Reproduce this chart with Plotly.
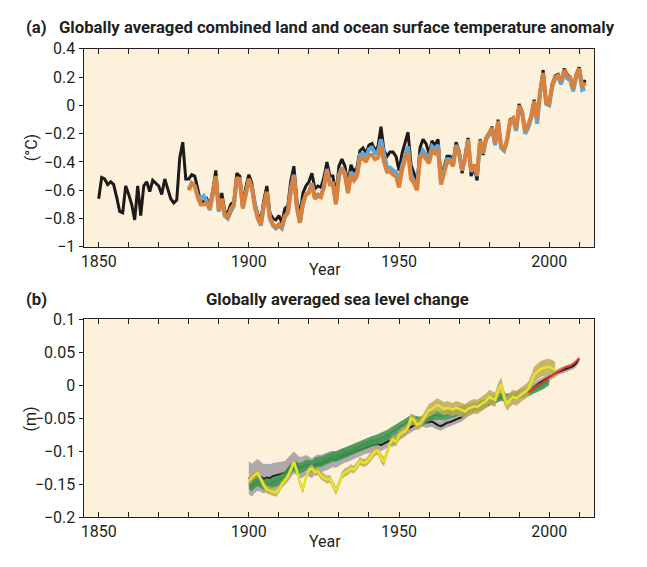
import numpy as np
import plotly.graph_objects as go

# ---------------- Panel (a): temperature anomaly (°C) ----------------
years_black = list(range(1850, 2013))
temp_black = [
    -0.66, -0.51, -0.52, -0.56, -0.54, -0.56, -0.65, -0.75, -0.76, -0.57,
    -0.63, -0.70, -0.81, -0.57, -0.78, -0.57, -0.54, -0.61, -0.53, -0.55,
    -0.57, -0.63, -0.52, -0.59, -0.66, -0.69, -0.67, -0.37, -0.26, -0.52,
    -0.52, -0.49, -0.50, -0.59, -0.69, -0.68, -0.66, -0.71, -0.60, -0.46,
    -0.71, -0.62, -0.75, -0.76, -0.70, -0.68, -0.48, -0.50, -0.70, -0.58,
    -0.49, -0.55, -0.69, -0.77, -0.81, -0.67, -0.57, -0.76, -0.80, -0.81,
    -0.78, -0.83, -0.73, -0.71, -0.53, -0.43, -0.67, -0.78, -0.62, -0.57,
    -0.54, -0.48, -0.59, -0.57, -0.58, -0.51, -0.40, -0.50, -0.50, -0.64,
    -0.43, -0.38, -0.43, -0.56, -0.42, -0.47, -0.44, -0.32, -0.30, -0.34,
    -0.28, -0.27, -0.32, -0.29, -0.15, -0.32, -0.36, -0.33, -0.33, -0.36,
    -0.46, -0.34, -0.26, -0.19, -0.42, -0.48, -0.56, -0.30, -0.24, -0.27,
    -0.34, -0.25, -0.28, -0.24, -0.51, -0.43, -0.36, -0.36, -0.40, -0.26,
    -0.32, -0.48, -0.36, -0.23, -0.50, -0.44, -0.53, -0.24, -0.35, -0.23,
    -0.20, -0.15, -0.28, -0.10, -0.30, -0.32, -0.25, -0.10, -0.09, -0.17,
    0.01, -0.04, -0.19, -0.14, -0.08, 0.04, -0.11, 0.10, 0.25, 0.02,
    0.00, 0.15, 0.21, 0.22, 0.16, 0.26, 0.22, 0.20, 0.11, 0.22,
    0.27, 0.14, 0.18,
]

years_color = list(range(1880, 2013))
temp_orange = [
    -0.60, -0.55, -0.57, -0.65, -0.70, -0.70, -0.69, -0.73, -0.62, -0.50,
    -0.74, -0.66, -0.77, -0.79, -0.73, -0.70, -0.51, -0.53, -0.73, -0.62,
    -0.52, -0.58, -0.72, -0.80, -0.84, -0.70, -0.61, -0.79, -0.84, -0.86,
    -0.84, -0.86, -0.78, -0.76, -0.60, -0.50, -0.72, -0.83, -0.69, -0.63,
    -0.62, -0.56, -0.66, -0.64, -0.65, -0.58, -0.46, -0.56, -0.56, -0.70,
    -0.50, -0.45, -0.49, -0.62, -0.49, -0.53, -0.50, -0.38, -0.37, -0.40,
    -0.35, -0.35, -0.38, -0.37, -0.29, -0.40, -0.47, -0.47, -0.49, -0.50,
    -0.58, -0.46, -0.38, -0.33, -0.52, -0.55, -0.60, -0.37, -0.35, -0.38,
    -0.41, -0.32, -0.34, -0.31, -0.56, -0.48, -0.40, -0.40, -0.43, -0.29,
    -0.34, -0.46, -0.38, -0.25, -0.46, -0.42, -0.49, -0.25, -0.33, -0.23,
    -0.20, -0.16, -0.27, -0.11, -0.29, -0.31, -0.24, -0.11, -0.09, -0.17,
    0.00, -0.05, -0.18, -0.14, -0.08, 0.03, -0.10, 0.10, 0.23, 0.02,
    0.01, 0.14, 0.20, 0.21, 0.17, 0.25, 0.21, 0.20, 0.12, 0.21,
    0.26, 0.13, 0.16,
]
temp_blue = [
    -0.59, -0.55, -0.57, -0.64, -0.66, -0.64, -0.68, -0.74, -0.63, -0.51,
    -0.75, -0.67, -0.78, -0.80, -0.75, -0.71, -0.52, -0.52, -0.72, -0.61,
    -0.53, -0.58, -0.71, -0.80, -0.85, -0.71, -0.62, -0.80, -0.85, -0.87,
    -0.85, -0.87, -0.79, -0.76, -0.59, -0.49, -0.72, -0.83, -0.70, -0.63,
    -0.61, -0.55, -0.65, -0.63, -0.64, -0.57, -0.45, -0.55, -0.55, -0.69,
    -0.49, -0.44, -0.48, -0.61, -0.47, -0.51, -0.48, -0.35, -0.34, -0.37,
    -0.31, -0.30, -0.34, -0.33, -0.24, -0.36, -0.44, -0.44, -0.46, -0.47,
    -0.55, -0.43, -0.35, -0.29, -0.49, -0.53, -0.58, -0.36, -0.32, -0.35,
    -0.38, -0.29, -0.31, -0.28, -0.55, -0.46, -0.38, -0.38, -0.42, -0.28,
    -0.33, -0.46, -0.37, -0.24, -0.47, -0.42, -0.50, -0.25, -0.34, -0.24,
    -0.21, -0.16, -0.28, -0.12, -0.30, -0.32, -0.25, -0.12, -0.10, -0.18,
    -0.01, -0.05, -0.20, -0.16, -0.09, 0.02, -0.13, 0.09, 0.22, 0.01,
    0.00, 0.13, 0.19, 0.20, 0.15, 0.24, 0.19, 0.18, 0.10, 0.20,
    0.25, 0.11, 0.12,
]

# ---------------- Panel (b): sea level change (m) ----------------
years_cw = list(range(1900, 2011))
sea_black = [
    -0.140, -0.144, -0.139, -0.136, -0.139, -0.142, -0.140, -0.141, -0.138, -0.137,
    -0.135, -0.134, -0.133, -0.128, -0.122, -0.117, -0.121, -0.125, -0.124, -0.121,
    -0.123, -0.126, -0.121, -0.119, -0.120, -0.117, -0.116, -0.113, -0.112, -0.113,
    -0.110, -0.108, -0.106, -0.105, -0.103, -0.101, -0.099, -0.098, -0.096, -0.094,
    -0.093, -0.091, -0.090, -0.089, -0.091, -0.088, -0.086, -0.084, -0.085, -0.082,
    -0.076, -0.072, -0.069, -0.066, -0.063, -0.060, -0.058, -0.056, -0.055, -0.057,
    -0.056, -0.055, -0.058, -0.061, -0.062, -0.059, -0.057, -0.056, -0.054, -0.051,
    -0.050, -0.048, -0.044, -0.040, -0.037, -0.035, -0.034, -0.032, -0.030, -0.027,
    -0.024, -0.024, -0.023, -0.020, -0.018, -0.019, -0.020, -0.018, -0.016, -0.015,
    -0.013, -0.011, -0.010, -0.009, -0.006, -0.002, 0.001, 0.004, 0.007, 0.009,
    0.012, 0.015, 0.018, 0.020, 0.022, 0.024, 0.026, 0.027, 0.029, 0.033, 0.040,
]
sea_black_unc = [
    0.025, 0.025, 0.024, 0.024, 0.023, 0.022, 0.021, 0.021, 0.020, 0.020,
    0.019, 0.019, 0.018, 0.018, 0.017, 0.017, 0.016, 0.016, 0.016, 0.015,
    0.015, 0.015, 0.014, 0.014, 0.014, 0.013, 0.013, 0.013, 0.012, 0.012,
    0.012, 0.012, 0.011, 0.011, 0.011, 0.011, 0.010, 0.010, 0.010, 0.010,
    0.010, 0.010, 0.009, 0.009, 0.009, 0.009, 0.009, 0.009, 0.008, 0.008,
    0.008, 0.008, 0.008, 0.008, 0.008, 0.008, 0.008, 0.008, 0.008, 0.008,
    0.008, 0.008, 0.008, 0.007, 0.007, 0.007, 0.007, 0.007, 0.007, 0.007,
    0.007, 0.007, 0.007, 0.007, 0.007, 0.007, 0.007, 0.007, 0.007, 0.007,
    0.006, 0.006, 0.006, 0.006, 0.006, 0.006, 0.006, 0.006, 0.006, 0.006,
    0.006, 0.006, 0.006, 0.006, 0.006, 0.006, 0.006, 0.006, 0.006, 0.006,
    0.005, 0.005, 0.005, 0.005, 0.005, 0.005, 0.005, 0.005, 0.005, 0.005, 0.005,
]

years_green = list(range(1900, 2001))
sea_green = [
    -0.149, -0.153, -0.148, -0.145, -0.148, -0.151, -0.149, -0.150, -0.147, -0.146,
    -0.144, -0.142, -0.139, -0.132, -0.126, -0.122, -0.124, -0.126, -0.124, -0.121,
    -0.121, -0.122, -0.118, -0.116, -0.116, -0.114, -0.112, -0.110, -0.108, -0.108,
    -0.106, -0.104, -0.102, -0.101, -0.099, -0.097, -0.094, -0.092, -0.090, -0.088,
    -0.087, -0.085, -0.084, -0.082, -0.081, -0.079, -0.076, -0.073, -0.070, -0.067,
    -0.063, -0.060, -0.058, -0.055, -0.052, -0.053, -0.054, -0.055, -0.054, -0.052,
    -0.048, -0.046, -0.045, -0.046, -0.047, -0.046, -0.044, -0.043, -0.042, -0.040,
    -0.039, -0.038, -0.037, -0.036, -0.035, -0.034, -0.033, -0.031, -0.029, -0.027,
    -0.025, -0.023, -0.021, -0.019, -0.017, -0.018, -0.019, -0.018, -0.017, -0.015,
    -0.014, -0.013, -0.012, -0.011, -0.009, -0.007, -0.005, -0.003, 0.000, 0.003,
    0.006,
]
sea_green_unc = [
    0.008, 0.008, 0.008, 0.008, 0.008, 0.008, 0.008, 0.008, 0.008, 0.008,
    0.008, 0.008, 0.008, 0.008, 0.008, 0.008, 0.008, 0.008, 0.008, 0.008,
    0.008, 0.008, 0.008, 0.008, 0.008, 0.008, 0.008, 0.008, 0.008, 0.008,
    0.008, 0.008, 0.008, 0.008, 0.008, 0.008, 0.008, 0.008, 0.008, 0.008,
    0.008, 0.008, 0.008, 0.008, 0.008, 0.008, 0.008, 0.008, 0.008, 0.008,
    0.007, 0.007, 0.007, 0.007, 0.007, 0.007, 0.007, 0.007, 0.007, 0.007,
    0.007, 0.007, 0.007, 0.007, 0.007, 0.007, 0.007, 0.007, 0.007, 0.007,
    0.007, 0.007, 0.007, 0.007, 0.007, 0.007, 0.007, 0.007, 0.007, 0.007,
    0.006, 0.006, 0.006, 0.006, 0.006, 0.006, 0.006, 0.006, 0.006, 0.006,
    0.006, 0.006, 0.006, 0.006, 0.006, 0.006, 0.006, 0.006, 0.006, 0.006,
    0.006,
]

years_yellow = list(range(1900, 2003))
sea_yellow = [
    -0.145, -0.140, -0.136, -0.133, -0.142, -0.152, -0.158, -0.160, -0.162, -0.163,
    -0.158, -0.150, -0.145, -0.138, -0.128, -0.116, -0.130, -0.148, -0.158, -0.140,
    -0.128, -0.126, -0.132, -0.130, -0.137, -0.140, -0.143, -0.142, -0.150, -0.160,
    -0.150, -0.137, -0.132, -0.130, -0.126, -0.128, -0.122, -0.115, -0.118, -0.117,
    -0.112, -0.106, -0.100, -0.099, -0.110, -0.116, -0.100, -0.088, -0.082, -0.086,
    -0.076, -0.072, -0.070, -0.064, -0.050, -0.053, -0.060, -0.058, -0.052, -0.044,
    -0.038, -0.036, -0.032, -0.030, -0.033, -0.036, -0.034, -0.035, -0.037, -0.034,
    -0.036, -0.038, -0.040, -0.036, -0.034, -0.032, -0.033, -0.030, -0.028, -0.024,
    -0.018, -0.020, -0.022, -0.008, 0.001, -0.018, -0.028, -0.022, -0.018, -0.020,
    -0.016, -0.013, -0.010, -0.006, 0.004, 0.016, 0.020, 0.024, 0.026, 0.027,
    0.028, 0.026, 0.023,
]
sea_yellow_unc = [
    0.006, 0.006, 0.006, 0.006, 0.006, 0.006, 0.006, 0.006, 0.006, 0.006,
    0.006, 0.006, 0.006, 0.006, 0.006, 0.006, 0.006, 0.006, 0.006, 0.006,
    0.006, 0.006, 0.006, 0.006, 0.006, 0.006, 0.006, 0.006, 0.006, 0.006,
    0.006, 0.006, 0.006, 0.006, 0.006, 0.006, 0.006, 0.006, 0.006, 0.006,
    0.007, 0.007, 0.007, 0.007, 0.007, 0.007, 0.007, 0.007, 0.007, 0.007,
    0.008, 0.008, 0.008, 0.008, 0.008, 0.008, 0.008, 0.008, 0.008, 0.008,
    0.010, 0.010, 0.010, 0.010, 0.010, 0.010, 0.010, 0.010, 0.010, 0.010,
    0.011, 0.011, 0.011, 0.011, 0.011, 0.011, 0.011, 0.011, 0.011, 0.011,
    0.011, 0.011, 0.011, 0.011, 0.011, 0.011, 0.011, 0.011, 0.011, 0.011,
    0.011, 0.011, 0.011, 0.011, 0.011, 0.012, 0.012, 0.012, 0.012, 0.012,
    0.012, 0.012, 0.012,
]

years_red = list(range(1993, 2011))
sea_red = [
    -0.011, -0.008, -0.004, -0.001, 0.002, 0.004, 0.008, 0.012, 0.015, 0.018,
    0.021, 0.023, 0.026, 0.028, 0.029, 0.032, 0.036, 0.040,
]

# ---------------- Axes labels ----------------
x_tickvals = list(range(1850, 2011, 10))
x_ticktext = ["1850", "", "", "", "", "1900", "", "", "", "", "1950", "", "", "", "", "2000", ""]
a_tickvals = [0.4, 0.2, 0, -0.2, -0.4, -0.6, -0.8, -1]
a_ticktext = ["0.4", "0.2", "0", "\u22120.2", "\u22120.4", "\u22120.6", "\u22120.8", "\u22121"]
b_tickvals = [0.1, 0.05, 0, -0.05, -0.1, -0.15, -0.2]
b_ticktext = ["0.1", "0.05", "0", "\u22120.05", "\u22120.1", "\u22120.15", "\u22120.2"]

FONT = "Liberation Sans Narrow, Roboto, sans-serif"
TXT = "#231f20"
# the page body keeps an 8 px margin; the figure is sized to fit the window
OFF = 8
W, H = 647 - 2 * OFF, 567 - 2 * OFF


def px(x):
    return (x - OFF) / W


def py(y):
    return 1 - (y - OFF) / H


fig = go.Figure()

# Panel a traces
fig.add_trace(go.Scatter(x=years_black, y=temp_black, mode="lines",
                         line=dict(color="#1e1a1a", width=3), xaxis="x", yaxis="y"))
fig.add_trace(go.Scatter(x=years_color, y=temp_blue, mode="lines",
                         line=dict(color="#58a8dc", width=4), xaxis="x", yaxis="y"))
fig.add_trace(go.Scatter(x=years_color, y=temp_orange, mode="lines",
                         line=dict(color="#d9823f", width=4), xaxis="x", yaxis="y"))


def band(years, mid, unc, color):
    mid = np.array(mid)
    unc = np.array(unc)
    fig.add_trace(go.Scatter(x=years, y=mid + unc, mode="lines", line=dict(width=0),
                             hoverinfo="skip", xaxis="x2", yaxis="y2"))
    fig.add_trace(go.Scatter(x=years, y=mid - unc, mode="lines", line=dict(width=0),
                             fill="tonexty", fillcolor=color, hoverinfo="skip",
                             xaxis="x2", yaxis="y2"))


band(years_cw, sea_black, sea_black_unc, "rgba(125,122,140,0.6)")
fig.add_trace(go.Scatter(x=years_cw, y=sea_black, mode="lines",
                         line=dict(color="#1e1a1a", width=2), xaxis="x2", yaxis="y2"))
band(years_green, sea_green, sea_green_unc, "rgba(62,148,78,0.88)")
fig.add_trace(go.Scatter(x=years_green, y=sea_green, mode="lines",
                         line=dict(color="#3c8f4c", width=1.5), xaxis="x2", yaxis="y2"))
band(years_yellow, sea_yellow, sea_yellow_unc, "rgba(188,168,88,0.85)")
fig.add_trace(go.Scatter(x=years_yellow, y=sea_yellow, mode="lines",
                         line=dict(color="#e6e228", width=2.5), xaxis="x2", yaxis="y2"))
fig.add_trace(go.Scatter(x=years_red, y=sea_red, mode="lines",
                         line=dict(color="#e2321e", width=2), xaxis="x2", yaxis="y2"))

xdom = [px(81), px(594)]
ydom_a = [py(246), py(41)]
ydom_b = [py(526), py(321)]

common_x = dict(range=[1845, 2015], tickmode="array", tickvals=x_tickvals, ticktext=x_ticktext,
                ticks="inside", ticklen=5, tickwidth=1, tickcolor="#231f20",
                showline=True, linecolor="#231f20", linewidth=1.3, mirror="ticks",
                showgrid=False, zeroline=False, domain=xdom,
                tickfont=dict(family=FONT, size=16, color=TXT))
common_y = dict(tickmode="array", ticks="outside", ticklen=4, tickwidth=1, tickcolor="#231f20",
                showline=True, linecolor="#231f20", linewidth=1.3, mirror=True,
                showgrid=False, zeroline=False,
                tickfont=dict(family=FONT, size=16, color=TXT))

fig.update_layout(
    width=W, height=H,
    margin=dict(l=0, r=0, t=0, b=0),
    paper_bgcolor="white",
    plot_bgcolor="#fdf1dc",
    showlegend=False,
    xaxis=dict(anchor="y", **common_x),
    yaxis=dict(anchor="x", domain=ydom_a, range=[-1, 0.4], tickvals=a_tickvals,
               ticktext=a_ticktext, **common_y),
    xaxis2=dict(anchor="y2", **common_x),
    yaxis2=dict(anchor="x2", domain=ydom_b, range=[-0.2, 0.1], tickvals=b_tickvals,
                ticktext=b_ticktext, **common_y),
    yaxis3=dict(overlaying="y", side="right", anchor="x", range=[-1, 0.4], tickmode="array",
                tickvals=a_tickvals, ticks="inside", ticklen=5, tickcolor="#231f20",
                showticklabels=False, showgrid=False, zeroline=False, showline=False),
    yaxis4=dict(overlaying="y2", side="right", anchor="x2", range=[-0.2, 0.1], tickmode="array",
                tickvals=b_tickvals, ticks="inside", ticklen=5, tickcolor="#231f20",
                showticklabels=False, showgrid=False, zeroline=False, showline=False),
)

ann = []
bold = dict(family=FONT, size=16.7, color=TXT)
norm = dict(family=FONT, size=16, color=TXT)
ann.append(dict(text="<b>(a)</b>", x=px(22), y=py(19), xanchor="left", yanchor="middle", font=bold))
ann.append(dict(text="<b>Globally averaged combined land and ocean surface temperature anomaly</b>",
                x=px(55), y=py(19), xanchor="left", yanchor="middle", font=bold))
ann.append(dict(text="<b>(b)</b>", x=px(22), y=py(301), xanchor="left", yanchor="middle", font=bold))
ann.append(dict(text="<b>Globally averaged sea level change</b>",
                x=px(336), y=py(301), xanchor="center", yanchor="middle", font=bold))
ann.append(dict(text="(°C)", x=px(28), y=py(143), xanchor="center", yanchor="middle",
                textangle=-90, font=norm))
ann.append(dict(text="(m)", x=px(28), y=py(424), xanchor="center", yanchor="middle",
                textangle=-90, font=norm))
ann.append(dict(text="Year", x=px(323), y=py(270), xanchor="center", yanchor="middle", font=norm))
ann.append(dict(text="Year", x=px(323), y=py(551), xanchor="center", yanchor="middle", font=norm))
for a in ann:
    a.update(xref="paper", yref="paper", showarrow=False, borderpad=0)
fig.update_layout(annotations=ann)

fig.write_html("out.html")
